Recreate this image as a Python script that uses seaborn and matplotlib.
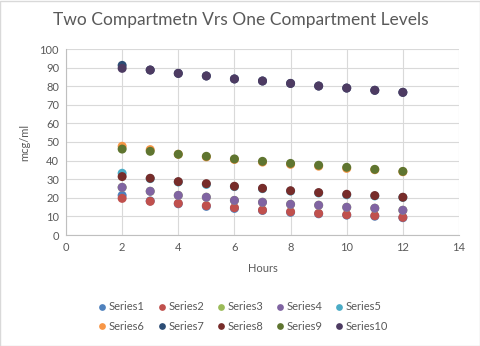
import matplotlib
matplotlib.use("Agg")
import matplotlib.pyplot as plt
import seaborn as sns
import pandas as pd

hours = [2, 3, 4, 5, 6, 7, 8, 9, 10, 11, 12]

series1 = [21.3, 18.3, 16.8, 15.4, 14.3, 13.2, 12.2, 11.4, 10.7, 10.1, 9.3]
series2 = [19.7, 18.1, 17.0, 15.8, 14.7, 13.4, 12.5, 11.6, 10.9, 10.4, 9.5]
series3 = [25.6, 23.5, 21.3, 20.3, 18.6, 17.6, 16.5, 16.0, 14.9, 14.4, 13.3]
series4 = [25.6, 23.5, 21.3, 20.3, 18.6, 17.6, 16.5, 16.0, 14.9, 14.4, 13.3]
series5 = [33.2, 30.3, 28.5, 27.2, 26.0, 24.9, 23.6, 22.6, 21.6, 21.0, 20.2]
series6 = [47.7, 45.9, 43.4, 42.0, 40.6, 39.2, 38.0, 37.0, 35.8, 35.1, 34.0]
series7 = [91.2, 88.7, 86.9, 85.5, 83.9, 82.8, 81.5, 80.1, 79.0, 77.8, 76.7]
series8 = [31.4, 30.5, 28.7, 27.6, 26.2, 25.1, 23.8, 22.8, 21.9, 21.2, 20.3]
series9 = [46.2, 45.0, 43.4, 42.3, 40.9, 39.6, 38.5, 37.5, 36.4, 35.3, 34.2]
series10 = [89.6, 88.7, 86.9, 85.5, 83.9, 82.8, 81.5, 80.1, 79.0, 77.8, 76.7]

names = ["Series1", "Series2", "Series3", "Series4", "Series5",
         "Series6", "Series7", "Series8", "Series9", "Series10"]
values = [series1, series2, series3, series4, series5,
          series6, series7, series8, series9, series10]
colors = ["#4F81BD", "#C0504D", "#9BBB59", "#8064A2", "#4BACC6",
          "#F79646", "#2C4D75", "#772C2A", "#5F7530", "#4D3B62"]

title = "Two Compartmetn Vrs One Compartment Levels"
xlabel = "Hours"
ylabel = "mcg/ml"

rows = []
for n, v in zip(names, values):
    for h, y in zip(hours, v):
        rows.append({"Hours": h, "Value": y, "Series": n})
df = pd.DataFrame(rows)

sns.set_theme(style="white")
plt.rcParams["font.family"] = ["Lato", "DejaVu Sans"]
txt = "#595959"

fig = plt.figure(figsize=(4.81, 3.46), dpi=100)
fig.patch.set_facecolor("white")
ax = fig.add_axes([66 / 481, 1 - 235 / 346, (459 - 66) / 481, (235 - 49) / 346])

sns.scatterplot(data=df, x="Hours", y="Value", hue="Series", hue_order=names,
                palette=colors, s=42, linewidth=0, ax=ax, zorder=3)

ax.set_xlim(0, 14)
ax.set_ylim(0, 100)
ax.set_xticks(range(0, 15, 2))
ax.set_yticks(range(0, 101, 10))
ax.grid(True, color="#D9D9D9", linewidth=0.8, zorder=0)
ax.set_axisbelow(True)
for s in ["top", "right"]:
    ax.spines[s].set_visible(False)
for s in ["left", "bottom"]:
    ax.spines[s].set_color("#BFBFBF")
    ax.spines[s].set_linewidth(0.8)
ax.tick_params(axis="both", labelsize=8, colors=txt, length=0, pad=5)
ax.set_xlabel(xlabel, fontsize=8, color=txt, labelpad=7)
ax.set_ylabel(ylabel, fontsize=8, color=txt, labelpad=7)

fig.text(0.5, 1 - 20 / 346, title, ha="center", va="center", fontsize=12.5, color=txt)

handles, labels = ax.get_legend_handles_labels()
ax.get_legend().remove()
order = [0, 5, 1, 6, 2, 7, 3, 8, 4, 9]
leg = ax.legend([handles[i] for i in order], [labels[i] for i in order],
                loc="center", bbox_to_anchor=(0.503, 0.085),
                bbox_transform=fig.transFigure, ncol=5, frameon=False,
                fontsize=8, handletextpad=0.0, columnspacing=0.9,
                labelspacing=0.75, markerscale=0.75, labelcolor=txt,
                handlelength=1.2)

border = plt.Rectangle((0.001, 0.001), 0.997, 0.997, transform=fig.transFigure,
                       fill=False, edgecolor="#D9D9D9", linewidth=1)
fig.add_artist(border)

fig.savefig("out.png", dpi=100, facecolor="white")
